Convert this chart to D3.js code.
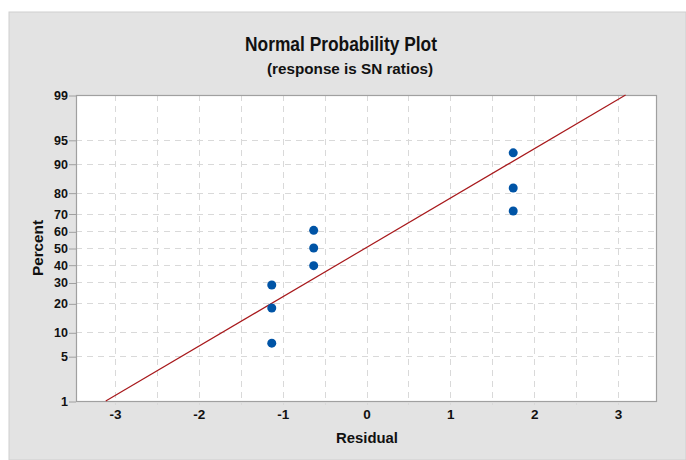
<!DOCTYPE html>
<html>
<head>
<meta charset="utf-8">
<script src="https://cdn.jsdelivr.net/npm/d3@7"></script>
<style>
  body { margin: 0; background: #ffffff; }
  svg { display: block; font-family: "Liberation Sans", Arial, sans-serif; }
</style>
</head>
<body>
<svg id="chart" width="686" height="460"></svg>
<script>
// Data
var residuals = [-1.13, -1.13, -1.13, -0.63, -0.63, -0.63, 1.75, 1.75, 1.75];
var percents = [7.4, 18.1, 28.7, 39.4, 50.0, 60.6, 71.3, 81.9, 92.6];
// fitted normal line, two ends (residual, percent)
var fitResiduals = [-3.11, 3.09];
var fitPercents = [1, 99];
var xTicks = [-3, -2, -1, 0, 1, 2, 3];
var xGridTicks = [-3, -2.5, -2, -1.5, -1, -0.5, 0, 0.5, 1, 1.5, 2, 2.5, 3];
var yTicks = [1, 5, 10, 20, 30, 40, 50, 60, 70, 80, 90, 95, 99];
var xDomain = [-3.465, 3.465];
var yDomain = [1, 99];

// Colours
var panelColour = '#e3e3e3';
var gridColour = '#d9d9d9';
var frameColour = '#a0a0a0';
var pointColour = '#0054a6';
var lineColour = '#a8191c';
var textColour = '#111111';

// Plot box
var plotLeft = 76, plotRight = 657, plotTop = 95, plotBottom = 401;

// inverse normal cdf (Acklam)
function probit(p) {
  var a = [-3.969683028665376e+01, 2.209460984245205e+02, -2.759285104469687e+02, 1.383577518672690e+02, -3.066479806614716e+01, 2.506628277459239e+00];
  var b = [-5.447609879822406e+01, 1.615858368580409e+02, -1.556989798598866e+02, 6.680131188771972e+01, -1.328068155288572e+01];
  var c = [-7.784894002430293e-03, -3.223964580411365e-01, -2.400758277161838e+00, -2.549732539343734e+00, 4.374664141464968e+00, 2.938163982698783e+00];
  var d = [7.784695709041462e-03, 3.224671290700398e-01, 2.445134137142996e+00, 3.754408661907416e+00];
  var pl = 0.02425, q, r;
  if (p < pl) {
    q = Math.sqrt(-2 * Math.log(p));
    return (((((c[0]*q+c[1])*q+c[2])*q+c[3])*q+c[4])*q+c[5]) / ((((d[0]*q+d[1])*q+d[2])*q+d[3])*q+1);
  }
  if (p > 1 - pl) {
    q = Math.sqrt(-2 * Math.log(1 - p));
    return -(((((c[0]*q+c[1])*q+c[2])*q+c[3])*q+c[4])*q+c[5]) / ((((d[0]*q+d[1])*q+d[2])*q+d[3])*q+1);
  }
  q = p - 0.5; r = q * q;
  return (((((a[0]*r+a[1])*r+a[2])*r+a[3])*r+a[4])*r+a[5])*q / (((((b[0]*r+b[1])*r+b[2])*r+b[3])*r+b[4])*r+1);
}

function pz(pct) { return probit(pct / 100); }

var svg = d3.select("#chart");

// background panel
svg.append("rect")
  .attr("x", 9).attr("y", 12)
  .attr("width", 686 - 9).attr("height", 460 - 12)
  .attr("fill", panelColour)
  .attr("stroke", "#cfcfcf")
  .attr("stroke-width", 1);

svg.append("rect")
  .attr("x", plotLeft).attr("y", plotTop)
  .attr("width", plotRight - plotLeft).attr("height", plotBottom - plotTop)
  .attr("fill", "white");

var x = d3.scaleLinear().domain(xDomain).range([plotLeft, plotRight]);
var y = d3.scaleLinear().domain(yDomain.map(pz)).range([plotBottom, plotTop]);

// grid
svg.append("g").selectAll("line.vgrid")
  .data(xGridTicks)
  .enter().append("line")
  .attr("class", "vgrid")
  .attr("x1", function (d) { return Math.round(x(d)) + 0.5; })
  .attr("x2", function (d) { return Math.round(x(d)) + 0.5; })
  .attr("y1", plotTop)
  .attr("y2", plotBottom + 4)
  .attr("stroke", gridColour)
  .attr("stroke-dasharray", "6,5");

svg.append("g").selectAll("line.hgrid")
  .data(yTicks.slice(1, -1))
  .enter().append("line")
  .attr("class", "hgrid")
  .attr("x1", plotLeft)
  .attr("x2", plotRight)
  .attr("y1", function (d) { return Math.round(y(pz(d))) + 0.5; })
  .attr("y2", function (d) { return Math.round(y(pz(d))) + 0.5; })
  .attr("stroke", gridColour)
  .attr("stroke-dasharray", "6,5");

// frame
svg.append("rect")
  .attr("x", plotLeft + 0.5).attr("y", plotTop + 0.5)
  .attr("width", plotRight - plotLeft - 1).attr("height", plotBottom - plotTop)
  .attr("fill", "none")
  .attr("stroke", frameColour)
  .attr("stroke-width", 1.2);

// axes
var yAxis = d3.axisLeft(y)
  .tickValues(yTicks.map(pz))
  .tickFormat(function (d, i) { return yTicks[i]; })
  .tickSize(7)
  .tickPadding(1);

var yg = svg.append("g")
  .attr("transform", "translate(" + plotLeft + ",0.5)")
  .call(yAxis);
yg.select(".domain").remove();
yg.selectAll(".tick line").attr("stroke", frameColour);
yg.selectAll(".tick text")
  .attr("font-family", "Liberation Sans, Arial, sans-serif")
  .attr("font-size", 12.5)
  .attr("font-weight", "bold")
  .attr("fill", textColour);

var xAxis = d3.axisBottom(x)
  .tickValues(xTicks)
  .tickFormat(function (d) { return String(d); })
  .tickSize(0)
  .tickPadding(8);

var xg = svg.append("g")
  .attr("transform", "translate(0," + plotBottom + ")")
  .call(xAxis);
xg.select(".domain").remove();
xg.selectAll(".tick text")
  .attr("font-family", "Liberation Sans, Arial, sans-serif")
  .attr("font-size", 13.5)
  .attr("font-weight", "bold")
  .attr("fill", textColour);

// fitted line
var line = d3.line()
  .x(function (d) { return x(d[0]); })
  .y(function (d) { return y(pz(d[1])); });

svg.append("path")
  .datum(d3.zip(fitResiduals, fitPercents))
  .attr("d", line)
  .attr("fill", "none")
  .attr("stroke", lineColour)
  .attr("stroke-width", 1.2);

// points
svg.append("g").selectAll("circle")
  .data(d3.zip(residuals, percents))
  .enter().append("circle")
  .attr("cx", function (d) { return x(d[0]); })
  .attr("cy", function (d) { return y(pz(d[1])); })
  .attr("r", 4.5)
  .attr("fill", pointColour);

// titles
svg.append("text")
  .attr("x", 341).attr("y", 51)
  .attr("text-anchor", "middle")
  .attr("font-size", 20)
  .attr("font-weight", "bold")
  .attr("textLength", 192)
  .attr("lengthAdjust", "spacingAndGlyphs")
  .attr("fill", textColour)
  .text("Normal Probability Plot");

svg.append("text")
  .attr("x", 350).attr("y", 74)
  .attr("text-anchor", "middle")
  .attr("font-size", 15)
  .attr("font-weight", "bold")
  .attr("textLength", 166)
  .attr("lengthAdjust", "spacingAndGlyphs")
  .attr("fill", textColour)
  .text("(response is SN ratios)");

svg.append("text")
  .attr("x", 367).attr("y", 443)
  .attr("text-anchor", "middle")
  .attr("font-size", 15)
  .attr("font-weight", "bold")
  .attr("textLength", 62)
  .attr("lengthAdjust", "spacingAndGlyphs")
  .attr("fill", textColour)
  .text("Residual");

svg.append("text")
  .attr("transform", "translate(43,248) rotate(-90)")
  .attr("text-anchor", "middle")
  .attr("font-size", 15)
  .attr("font-weight", "bold")
  .attr("textLength", 56)
  .attr("lengthAdjust", "spacingAndGlyphs")
  .attr("fill", textColour)
  .text("Percent");
</script>
</body>
</html>
